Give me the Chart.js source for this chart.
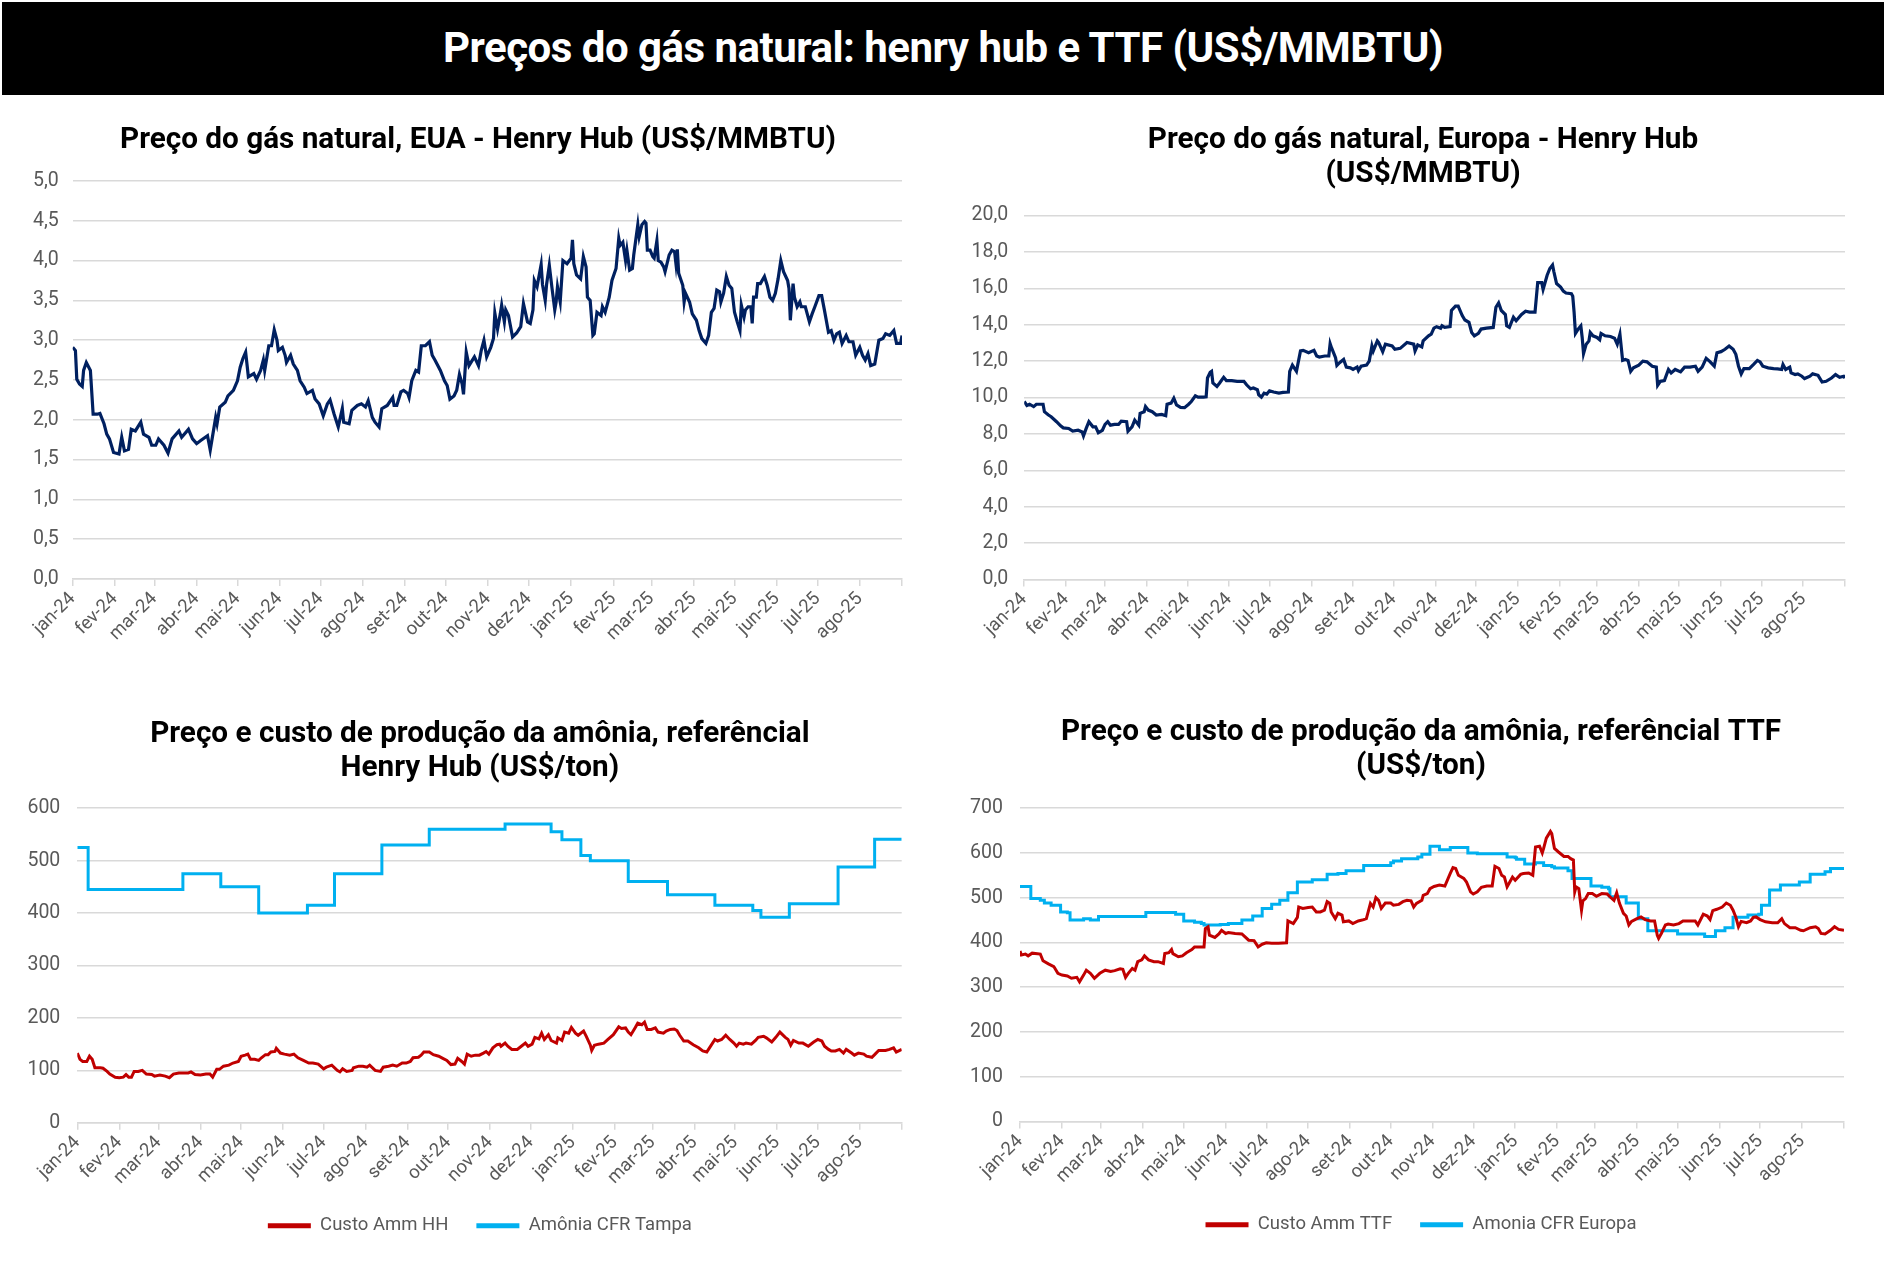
<!DOCTYPE html>
<html lang="pt-BR">
<head>
<meta charset="utf-8">
<title>Preços do gás natural: henry hub e TTF</title>
<script src="https://cdn.jsdelivr.net/npm/chart.js@4.4.1/dist/chart.umd.min.js"></script>
<style>
	html, body { margin: 0; padding: 0; background: #fff; }
	body { width: 1887px; height: 1282px; position: relative; overflow: hidden; font-family: Roboto, "Noto Sans", sans-serif; }
	#cabecalho {
		position: absolute; left: 2px; top: 2px; width: 1882px; height: 93px;
		background: #000; color: #fff; font-weight: 700; font-size: 42px;
		line-height: 91px; text-align: center; letter-spacing: -0.5px;
	}
	.caixa { position: absolute; }
</style>
</head>
<body>
<div id="cabecalho">Preços do gás natural: henry hub e TTF (US$/MMBTU)</div>
<div class="caixa" style="left:0;top:100px;width:943px;height:560px"><canvas id="grafHH"></canvas></div>
<div class="caixa" style="left:943px;top:100px;width:944px;height:560px"><canvas id="grafTTF"></canvas></div>
<div class="caixa" style="left:0;top:690px;width:943px;height:592px"><canvas id="grafAmmHH"></canvas></div>
<div class="caixa" style="left:943px;top:690px;width:944px;height:592px"><canvas id="grafAmmTTF"></canvas></div>
<script>
const FONTE = 'Roboto, "Noto Sans", sans-serif';
const CINZA = '#595959';
const GRADE = '#d9d9d9';

// rótulos do eixo x (o último tique, set-25, fica sem texto)
const meses = ['jan-24','fev-24','mar-24','abr-24','mai-24','jun-24','jul-24','ago-24','set-24','out-24',
	'nov-24','dez-24','jan-25','fev-25','mar-25','abr-25','mai-25','jun-25','jul-25','ago-25',''];

// séries: [dias desde 01/01/2024, valor]
const hhSerie = [[0,2.91],[2,2.87],[3,2.51],[5,2.45],[7,2.42],[8,2.62],[10,2.72],[13,2.62],[15,2.07],[18,2.07],
	[20,2.08],[23,1.95],[25,1.82],[27,1.76],[30,1.59],[34,1.57],[36,1.78],[38,1.61],[41,1.63],[43,1.88],
	[46,1.86],[50,1.97],[52,1.82],[56,1.78],[58,1.68],[61,1.68],[63,1.76],[67,1.68],[70,1.58],[73,1.76],
	[78,1.86],[80,1.78],[85,1.88],[88,1.76],[91,1.70],[94,1.74],[99,1.80],[101,1.62],[105,2.03],[106,1.95],
	[108,2.16],[112,2.22],[114,2.30],[118,2.37],[121,2.49],[123,2.66],[125,2.77],[127,2.85],[129,2.54],[133,2.58],
	[135,2.51],[138,2.62],[140,2.75],[141,2.62],[144,2.93],[146,2.93],[148,3.13],[150,3.00],[151,2.87],[154,2.91],
	[156,2.81],[157,2.72],[160,2.81],[162,2.70],[165,2.62],[167,2.49],[170,2.41],[172,2.33],[176,2.37],[178,2.26],
	[181,2.20],[184,2.05],[187,2.20],[189,2.25],[192,2.07],[195,1.91],[198,2.14],[199,1.97],[203,1.95],[205,2.12],
	[209,2.18],[212,2.20],[215,2.16],[217,2.24],[220,2.03],[222,1.97],[225,1.91],[227,2.14],[231,2.18],[235,2.28],
	[236,2.18],[238,2.18],[241,2.35],[243,2.37],[246,2.33],[247,2.28],[249,2.49],[252,2.62],[254,2.60],[256,2.93],
	[259,2.93],[262,2.98],[264,2.81],[266,2.75],[270,2.62],[273,2.49],[275,2.43],[277,2.26],[280,2.30],[282,2.37],
	[284,2.57],[286,2.45],[287,2.32],[289,2.85],[291,2.68],[295,2.79],[298,2.68],[300,2.87],[302,3.00],[304,2.79],
	[307,2.91],[309,3.02],[310,3.34],[312,3.14],[314,3.33],[315,3.44],[317,3.23],[318,3.38],[320,3.31],[323,3.04],
	[326,3.09],[329,3.17],[331,3.46],[334,3.23],[336,3.21],[338,3.38],[339,3.75],[341,3.67],[344,3.95],[345,3.70],
	[347,3.50],[348,3.70],[350,3.94],[352,3.65],[354,3.38],[355,3.48],[356,3.67],[358,3.48],[360,4.00],[363,3.96],
	[366,4.03],[367,4.26],[368,3.96],[370,3.82],[373,3.77],[375,4.05],[377,3.92],[378,3.54],[380,3.50],[382,3.06],
	[383,3.08],[385,3.35],[388,3.31],[389,3.42],[391,3.35],[394,3.54],[396,3.75],[399,3.90],[401,4.28],[402,4.19],
	[404,4.23],[406,4.00],[407,4.13],[409,3.88],[411,3.90],[412,4.07],[415,4.45],[416,4.30],[418,4.45],[420,4.49],
	[421,4.47],[422,4.13],[424,4.13],[426,4.05],[427,4.03],[429,4.25],[430,4.00],[432,3.98],[434,3.92],[435,3.86],
	[438,4.07],[440,4.13],[442,4.11],[443,3.96],[444,4.14],[445,3.84],[448,3.69],[449,3.48],[450,3.59],[453,3.48],
	[455,3.33],[458,3.25],[460,3.12],[462,3.02],[465,2.96],[467,3.06],[469,3.35],[471,3.40],[473,3.63],[475,3.61],
	[476,3.48],[478,3.59],[480,3.80],[482,3.69],[484,3.65],[486,3.35],[488,3.23],[490,3.12],[491,3.44],[493,3.29],
	[494,3.38],[496,3.42],[498,3.42],[499,3.21],[500,3.54],[502,3.54],[503,3.71],[505,3.71],[508,3.80],[510,3.69],
	[512,3.54],[514,3.50],[516,3.59],[518,3.77],[520,4.00],[522,3.86],[525,3.75],[526,3.65],[527,3.25],[529,3.71],
	[530,3.54],[532,3.42],[534,3.48],[535,3.42],[538,3.42],[541,3.23],[543,3.33],[545,3.42],[548,3.56],[550,3.56],
	[552,3.38],[555,3.10],[557,3.12],[559,3.00],[561,3.08],[563,3.10],[565,2.96],[568,3.06],[570,2.98],[573,2.98],
	[575,2.81],[578,2.91],[580,2.81],[582,2.75],[584,2.83],[586,2.68],[589,2.70],[592,3.00],[595,3.02],[597,3.08],
	[600,3.06],[603,3.12],[605,2.96],[608,2.96],[609,3.06]];

const ttfSerie = [[0,9.78],[2,9.56],[4,9.63],[7,9.50],[9,9.63],[14,9.63],[15,9.22],[18,9.04],[20,8.94],[24,8.67],
	[27,8.44],[29,8.33],[33,8.30],[36,8.15],[40,8.20],[43,8.11],[44,7.89],[46,8.30],[48,8.67],[51,8.39],
	[53,8.39],[55,8.07],[58,8.20],[60,8.52],[62,8.67],[64,8.48],[67,8.52],[70,8.52],[72,8.70],[76,8.67],
	[77,8.15],[80,8.39],[82,8.76],[85,8.48],[86,9.13],[89,9.22],[90,9.50],[92,9.31],[95,9.22],[98,9.04],
	[102,9.07],[105,9.00],[106,9.63],[109,9.69],[111,9.96],[113,9.59],[116,9.46],[119,9.44],[122,9.63],[124,9.78],
	[127,10.09],[129,10.02],[133,10.02],[135,10.04],[136,11.07],[138,11.39],[139,11.44],[140,10.80],[143,10.61],[145,10.80],
	[148,11.11],[150,10.93],[154,10.93],[158,10.89],[163,10.89],[165,10.70],[168,10.48],[170,10.52],[173,10.43],[174,10.15],
	[176,10.02],[178,10.24],[180,10.19],[182,10.37],[185,10.30],[189,10.24],[192,10.28],[196,10.30],[197,11.44],[199,11.78],
	[202,11.44],[205,12.56],[207,12.59],[211,12.46],[215,12.59],[217,12.28],[219,12.22],[223,12.28],[226,12.28],[227,12.96],
	[228,12.74],[231,12.19],[232,11.76],[234,11.91],[237,12.09],[239,11.67],[242,11.63],[244,11.54],[247,11.67],[248,11.48],
	[250,11.72],[254,11.78],[256,12.00],[258,12.83],[259,12.56],[262,13.11],[263,13.02],[266,12.52],[268,12.93],[273,12.83],
	[275,12.65],[279,12.70],[284,13.02],[289,12.93],[290,12.56],[292,12.89],[295,12.78],[296,13.11],[300,13.39],[302,13.48],
	[304,13.81],[306,13.89],[309,13.81],[310,13.94],[312,13.85],[316,13.89],[317,14.78],[320,15.02],[322,15.02],[325,14.50],
	[327,14.26],[330,14.13],[332,13.57],[334,13.39],[337,13.52],[339,13.76],[343,13.81],[348,13.85],[350,14.96],[352,15.20],
	[354,14.78],[357,14.56],[358,13.94],[360,13.85],[363,14.41],[365,14.22],[369,14.56],[372,14.74],[375,14.69],[379,14.69],
	[381,16.31],[384,16.31],[385,15.94],[388,16.72],[390,17.09],[392,17.28],[393,16.91],[395,16.26],[398,16.07],[400,15.85],
	[402,15.74],[406,15.70],[407,15.56],[408,14.69],[409,13.52],[411,13.76],[413,13.94],[414,13.30],[415,12.41],[417,12.93],
	[419,13.11],[420,13.57],[422,13.39],[425,13.30],[427,13.17],[428,13.52],[431,13.39],[435,13.35],[438,13.26],[440,12.93],
	[442,13.48],[444,12.04],[446,12.09],[448,12.04],[450,11.44],[452,11.63],[456,11.78],[459,12.00],[462,11.96],[466,11.72],
	[469,11.67],[470,10.67],[472,10.89],[475,10.93],[478,11.54],[480,11.35],[483,11.54],[487,11.41],[490,11.67],[494,11.67],
	[498,11.72],[500,11.44],[503,11.67],[506,12.15],[509,11.96],[512,11.72],[514,12.46],[517,12.52],[520,12.65],[523,12.83],
	[526,12.65],[528,12.37],[530,11.72],[532,11.30],[534,11.59],[538,11.59],[541,11.81],[544,12.04],[546,11.96],[548,11.72],
	[552,11.63],[556,11.59],[559,11.57],[562,11.54],[563,11.81],[565,11.54],[568,11.67],[569,11.35],[572,11.26],[574,11.30],
	[577,11.17],[579,11.04],[583,11.17],[585,11.30],[589,11.22],[592,10.85],[595,10.89],[599,11.07],[602,11.26],[605,11.11],
	[608,11.17],[609,11.07]];

const custoHHSerie = [[0,133],[2,121],[4,117],[7,117],[9,127],[11,121],[13,105],[17,105],[19,104],[22,98],
	[24,93],[28,87],[31,86],[34,87],[36,92],[38,87],[40,87],[42,98],[45,98],[48,100],
	[51,93],[55,92],[57,89],[61,91],[65,89],[68,86],[71,93],[75,95],[78,95],[82,95],
	[84,97],[87,92],[91,91],[95,93],[98,93],[100,87],[103,102],[105,102],[108,108],[112,110],
	[115,114],[119,117],[121,127],[124,129],[126,131],[128,121],[131,121],[134,119],[136,124],[139,130],
	[141,130],[143,135],[146,136],[147,142],[150,133],[153,131],[157,129],[160,131],[163,124],[167,119],
	[171,114],[174,114],[178,112],[182,103],[184,106],[188,110],[192,100],[194,97],[196,103],[199,98],
	[203,100],[204,105],[208,108],[211,108],[214,106],[216,110],[220,100],[224,98],[226,106],[230,108],
	[233,110],[236,108],[240,114],[243,114],[246,117],[248,124],[252,125],[254,129],[256,135],[260,135],
	[263,130],[267,127],[270,123],[273,119],[276,111],[279,112],[281,123],[284,117],[286,112],[288,131],
	[291,127],[294,129],[297,129],[300,133],[302,136],[304,131],[307,143],[310,149],[312,150],[313,146],
	[316,152],[318,146],[321,140],[325,140],[328,146],[331,152],[333,146],[336,150],[338,163],[341,160],
	[343,171],[345,159],[348,168],[350,157],[354,152],[355,162],[358,157],[360,173],[363,171],[365,182],
	[368,171],[370,167],[374,175],[376,165],[379,148],[380,138],[382,148],[385,150],[389,152],[392,159],
	[396,168],[400,183],[402,180],[405,181],[407,173],[409,168],[412,181],[414,190],[417,187],[419,192],
	[421,178],[424,178],[427,181],[429,173],[433,171],[435,175],[438,178],[441,179],[443,176],[445,167],
	[448,156],[451,156],[455,149],[459,143],[462,137],[465,135],[467,143],[471,159],[473,156],[476,159],
	[479,167],[482,159],[485,152],[487,146],[489,152],[492,150],[494,152],[498,150],[501,157],[503,163],
	[507,165],[509,162],[513,154],[516,163],[519,173],[523,163],[525,159],[527,148],[529,157],[533,152],
	[536,152],[540,146],[544,154],[547,159],[550,156],[552,146],[555,140],[557,137],[560,137],[563,140],
	[566,133],[568,140],[572,133],[574,129],[577,133],[581,131],[583,127],[587,125],[589,130],[592,138],
	[597,138],[600,140],[603,143],[605,135],[609,140]];

// preço CFR Tampa: cada valor vale a partir do dia indicado
const tampaSerie = [[0,525],[8,445],[78,475],[106,450],[134,400],[170,415],[190,475],[225,530],[260,560],[316,570],
	[350,555],[358,540],[372,510],[379,500],[407,460],[436,435],[471,415],[499,405],[505,392],[526,418],
	[562,488],[589,541],[609,541]];

const custoTTFSerie = [[0,381],[1,372],[4,374],[6,370],[9,376],[15,374],[17,359],[21,352],[25,346],[28,331],
	[31,327],[35,325],[38,320],[42,322],[44,312],[47,327],[49,338],[52,331],[55,320],[59,331],
	[63,338],[67,335],[70,337],[74,341],[76,340],[78,322],[80,331],[83,342],[85,338],[87,357],
	[90,361],[92,370],[95,361],[99,357],[102,357],[106,353],[107,375],[110,377],[112,384],[113,375],
	[117,368],[120,370],[123,377],[127,384],[129,390],[136,390],[137,431],[139,435],[140,416],[144,411],
	[147,419],[149,427],[152,420],[154,422],[159,420],[164,419],[169,405],[173,404],[176,390],[179,396],
	[182,399],[186,398],[191,398],[197,399],[198,448],[202,442],[205,456],[206,479],[209,476],[213,478],
	[216,479],[219,468],[222,468],[225,472],[227,491],[229,487],[230,468],[233,453],[235,465],[238,461],
	[239,446],[243,448],[246,442],[250,448],[254,451],[256,453],[259,487],[261,479],[263,500],[265,494],
	[267,476],[270,488],[274,488],[276,483],[280,485],[283,491],[286,494],[289,493],[291,479],[293,487],
	[297,494],[298,505],[301,509],[303,520],[306,525],[310,528],[314,526],[318,554],[320,567],[322,565],
	[324,550],[328,543],[330,535],[333,513],[335,508],[338,513],[341,523],[345,526],[349,526],[351,570],
	[354,565],[356,550],[358,546],[360,524],[362,535],[364,546],[366,539],[370,552],[372,554],[376,555],
	[379,550],[381,613],[384,615],[386,600],[387,610],[389,633],[392,648],[393,643],[395,610],[398,602],
	[402,592],[405,592],[407,587],[409,584],[410,513],[411,524],[413,520],[415,472],[416,493],[418,498],
	[420,509],[423,509],[426,503],[430,509],[434,508],[436,502],[439,494],[441,511],[443,488],[446,465],
	[448,459],[450,439],[452,447],[456,453],[459,457],[462,451],[466,448],[469,448],[471,416],[472,409],
	[474,420],[477,439],[479,441],[483,439],[487,442],[490,448],[494,448],[499,448],[501,439],[505,463],
	[508,459],[510,451],[512,471],[515,474],[519,479],[522,488],[525,483],[527,472],[529,457],[531,435],
	[533,447],[537,444],[540,448],[542,456],[544,457],[547,451],[551,446],[556,444],[560,444],[563,453],
	[565,442],[569,433],[573,433],[577,427],[579,426],[584,433],[588,435],[590,431],[592,420],[595,419],
	[599,427],[602,435],[605,429],[609,427]];

// preço CFR Europa: cada valor vale a partir do dia indicado
const europaSerie = [[0,525],[8,498],[15,494],[18,488],[23,483],[30,468],[35,466],[37,450],[47,453],[52,450],
	[58,458],[93,467],[115,463],[121,448],[129,445],[134,442],[136,439],[148,440],[154,442],[164,450],
	[172,459],[179,476],[186,485],[192,494],[198,511],[205,535],[216,540],[227,552],[235,554],[241,560],
	[254,572],[274,578],[276,582],[282,587],[294,591],[297,597],[303,615],[310,607],[318,612],[331,600],
	[338,598],[360,591],[366,589],[367,586],[373,575],[381,578],[387,572],[393,569],[395,566],[405,560],
	[408,543],[422,526],[430,523],[435,520],[436,502],[448,488],[457,453],[464,426],[486,419],[506,413],
	[514,426],[521,433],[527,456],[538,461],[546,463],[548,483],[554,517],[562,528],[576,535],[584,552],
	[595,558],[599,565],[609,567]];

// dia (desde 01/01/2024) do início de cada mês
const inicio = Date.UTC(2024, 0, 1);
const diasMeses = meses.map((m, i) => (Date.UTC(2024, i, 1) - inicio) / 86400000);
const fimEixo = diasMeses[diasMeses.length - 1];

function pontos(serie) {
	return serie.map(p => ({ x: p[0], y: p[1] }));
}

function virgula(v) {
	return v.toFixed(1).replace('.', ',');
}

function criarGrafico(id, op) {
	return new Chart(document.getElementById(id), {
		type: 'line',
		data: { datasets: op.datasets },
		options: {
			responsive: true,
			maintainAspectRatio: false,
			animation: false,
			devicePixelRatio: 1,
			// a margem esquerda centra título e legenda sobre a área do gráfico
			layout: { padding: { left: op.esquerda, top: 0, right: op.direita, bottom: op.baixo } },
			elements: { point: { radius: 0 }, line: { tension: 0 } },
			plugins: {
				tooltip: { enabled: false },
				title: {
					display: true,
					text: op.titulo,
					color: '#000',
					font: { family: FONTE, size: 29.7, weight: 'bold', lineHeight: 1.15 },
					padding: { top: op.tituloCima, bottom: op.tituloBaixo }
				},
				legend: op.legenda ? {
					display: true,
					position: 'bottom',
					labels: {
						usePointStyle: true,
						pointStyle: 'line',
						pointStyleWidth: 43,
						padding: 28,
						color: CINZA,
						font: { family: FONTE, size: 18.5 },
						generateLabels: function (chart) {
							const itens = Chart.defaults.plugins.legend.labels.generateLabels(chart);
							itens.forEach(item => { item.lineWidth = 5; });
							return itens;
						}
					}
				} : { display: false }
			},
			scales: {
				x: {
					type: 'linear',
					min: 0,
					max: fimEixo,
					afterBuildTicks: function (s) { s.ticks = diasMeses.map(v => ({ value: v })); },
					afterFit: function (s) {
						s.height = op.alturaX;
						s.paddingLeft = 0;
						s.paddingRight = 0;
					},
					grid: { display: true, drawOnChartArea: false, drawTicks: true, tickLength: 7, color: GRADE, lineWidth: 1.5 },
					border: { display: true, color: GRADE, width: 1.5 },
					ticks: {
						autoSkip: false,
						maxRotation: 45,
						minRotation: 45,
						padding: 2,
						color: CINZA,
						font: { family: FONTE, size: 18.5 },
						callback: (v, i) => meses[i]
					}
				},
				y: {
					min: 0,
					max: op.maximo,
					afterFit: function (s) {
						s.width = op.larguraY;
						// o eixo é estreito; os rótulos podem passar para a margem
						s._computeLabelArea = function () { return undefined; };
					},
					grid: { color: GRADE, lineWidth: 1.5, drawTicks: false },
					border: { display: false },
					ticks: {
						stepSize: op.passo,
						padding: op.recuo,
						color: CINZA,
						font: { family: FONTE, size: 19.5 },
						callback: op.formato
					}
				}
			}
		}
	});
}

criarGrafico('grafHH', {
	titulo: 'Preço do gás natural, EUA - Henry Hub (US$/MMBTU)',
	tituloCima: 23, tituloBaixo: 23.8,
	esquerda: 54, direita: 41, baixo: 0, alturaX: 81, larguraY: 18.7, recuo: 14,
	maximo: 5, passo: 0.5, formato: virgula, legenda: false,
	datasets: [{ label: 'Henry Hub', data: pontos(hhSerie), borderColor: '#002060', borderWidth: 3.2 }]
});

criarGrafico('grafTTF', {
	titulo: ['Preço do gás natural, Europa - Henry Hub', '(US$/MMBTU)'],
	tituloCima: 23, tituloBaixo: 24.2,
	esquerda: 58, direita: 42, baixo: 0, alturaX: 80.5, larguraY: 23.2, recuo: 16,
	maximo: 20, passo: 2, formato: virgula, legenda: false,
	datasets: [{ label: 'TTF', data: pontos(ttfSerie), borderColor: '#002060', borderWidth: 3.2 }]
});

criarGrafico('grafAmmHH', {
	titulo: ['Preço e custo de produção da amônia, referêncial', 'Henry Hub (US$/ton)'],
	tituloCima: 27.5, tituloBaixo: 22.4,
	esquerda: 58, direita: 41.3, baixo: 37, alturaX: 65.7, larguraY: 19.3, recuo: 17,
	maximo: 600, passo: 100, formato: v => v, legenda: true,
	datasets: [
		{ label: 'Custo Amm HH', data: pontos(custoHHSerie), borderColor: '#c00000', backgroundColor: '#c00000', borderWidth: 3 },
		{ label: 'Amônia CFR Tampa', data: pontos(tampaSerie), borderColor: '#00b0f0', backgroundColor: '#00b0f0', borderWidth: 3, stepped: 'before' }
	]
});

criarGrafico('grafAmmTTF', {
	titulo: ['Preço e custo de produção da amônia, referêncial TTF', '(US$/ton)'],
	tituloCima: 25, tituloBaixo: 24.8,
	esquerda: 55, direita: 43, baixo: 38, alturaX: 66, larguraY: 22, recuo: 17,
	maximo: 700, passo: 100, formato: v => v, legenda: true,
	datasets: [
		{ label: 'Custo Amm TTF', data: pontos(custoTTFSerie), borderColor: '#c00000', backgroundColor: '#c00000', borderWidth: 3 },
		{ label: 'Amonia CFR Europa', data: pontos(europaSerie), borderColor: '#00b0f0', backgroundColor: '#00b0f0', borderWidth: 3, stepped: 'before' }
	]
});
</script>
</body>
</html>
